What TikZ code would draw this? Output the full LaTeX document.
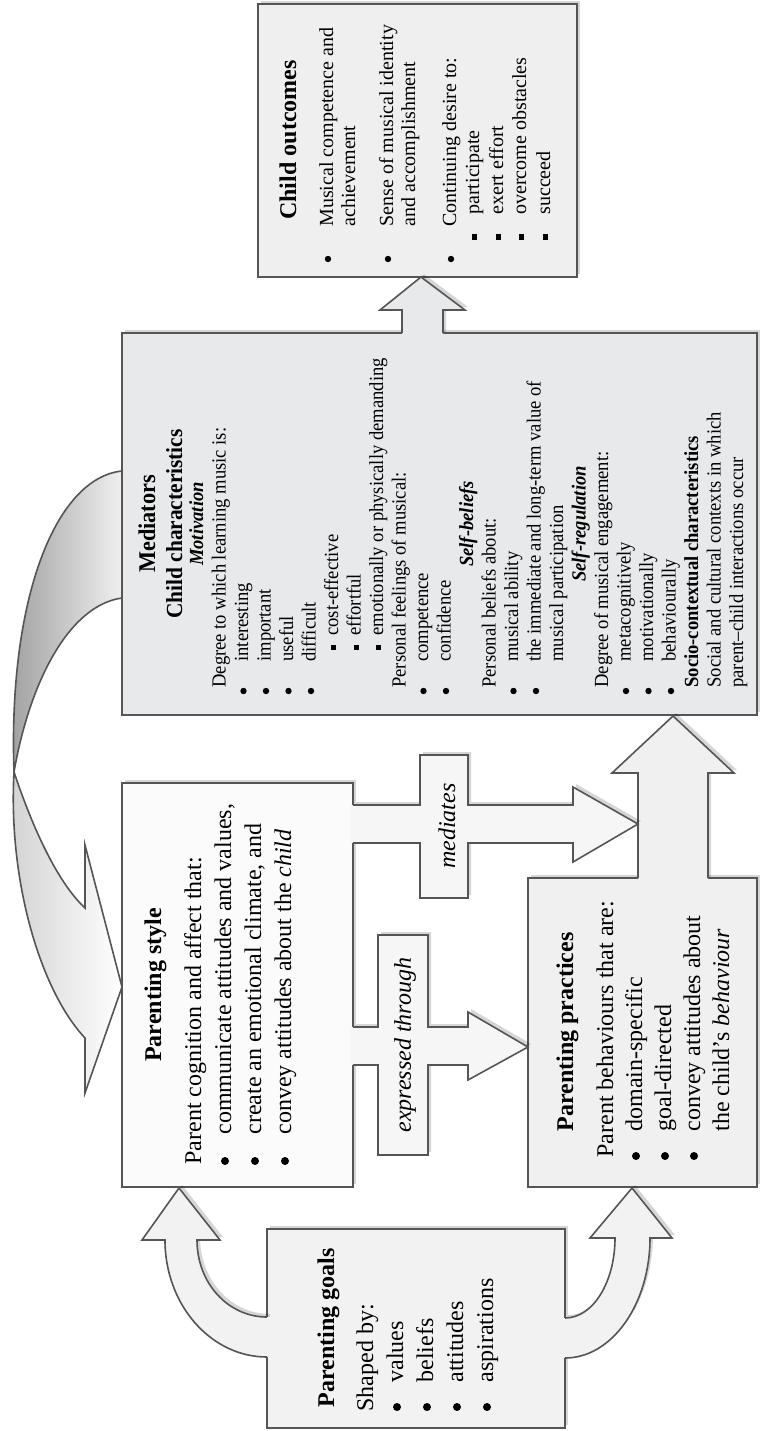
\documentclass[tikz,border=0pt]{standalone}
\usepackage{fontspec}
\setmainfont{Liberation Serif}
\newfontfamily\condfont[FakeStretch=0.93]{Liberation Serif}
\usetikzlibrary{shadows}
\definecolor{edgec}{HTML}{555555}
\definecolor{pgfill}{HTML}{F2F2F2}
\definecolor{psfill}{HTML}{FBFBFB}
\definecolor{ppfill}{HTML}{F0F0F0}
\definecolor{mfill}{HTML}{E8E9EA}
\definecolor{cofill}{HTML}{EFEFEF}
\definecolor{arrfill}{HTML}{F6F6F6}
\begin{document}
\begin{tikzpicture}[x=0.5pt,y=-0.5pt,
  box/.style={draw=edgec, line width=1pt, inner sep=0pt, outer sep=0pt,
    drop shadow={shadow xshift=1.5pt, shadow yshift=1.5pt, opacity=0.16, fill=black}},
  shd/.style={drop shadow={shadow xshift=1.5pt, shadow yshift=1.5pt, opacity=0.16, fill=black}},
  arr/.style={draw=edgec, line width=0.8pt, line join=miter},
  txt/.style={rotate=90, inner sep=0pt, anchor=base west},
  ctr/.style={rotate=90, inner sep=0pt, anchor=base},
  big/.style={font=\fontsize{12}{14}\selectfont},
  bigb/.style={font=\fontsize{12}{14}\selectfont\bfseries},
  sm/.style={font=\fontsize{10}{12}\selectfont},
  cd/.style={font=\condfont\fontsize{10}{12}\selectfont},
  cdb/.style={font=\condfont\fontsize{10}{12}\selectfont\bfseries},
  cdbi/.style={font=\condfont\fontsize{10}{12}\selectfont\bfseries\itshape},
  lbl/.style={rotate=90, inner sep=0pt, font=\fontsize{12}{14}\selectfont\itshape},
  sq/.style={rotate=90, inner sep=0pt, anchor=base west},
  dotL/.style={circle, fill=black, inner sep=0pt, minimum size=4pt},
  dotS/.style={circle, fill=black, inner sep=0pt, minimum size=3.2pt},
]
\useasboundingbox (0,0) rectangle (763,1431);
\fill[white] (0,0) rectangle (763,1431);

% ---------- ribbon arrow (Mediators -> Parenting style)
\shade[left color=gray!75, right color=gray!12]
  (122,471) .. controls (55,478) and (8,600) .. (14,772)
  .. controls (30,680) and (70,605) .. (122,598) -- cycle;
\shade[left color=gray!35, right color=white]
  (14,772) .. controls (8,880) and (40,990) .. (85,1038)
  -- (85,1093) -- (122,987) -- (85,845) -- (85,908)
  .. controls (55,880) and (30,820) .. (14,772) -- cycle;
\draw[arr] (122,471) .. controls (55,478) and (8,600) .. (14,772)
  .. controls (8,880) and (40,990) .. (85,1038)
  -- (85,1093) -- (122,987) -- (85,845) -- (85,908)
  .. controls (55,880) and (30,820) .. (14,772)
  .. controls (30,680) and (70,605) .. (122,598);

% ---------- boxes
\node[box, fill=cofill, minimum width=159.5pt, minimum height=136.5pt] (co) at (417.5,140.5) {};
\node[box, fill=mfill, minimum width=317.5pt, minimum height=191pt] (med) at (439.5,524) {};
\node[box, fill=psfill, minimum width=115.5pt, minimum height=202pt] (ps) at (237.5,985) {};
\node[box, fill=ppfill, minimum width=114.5pt, minimum height=154.5pt] (pp) at (642.5,1032.5) {};
\node[box, fill=pgfill, minimum width=149pt, minimum height=99.5pt] (pg) at (416,1328.5) {};

% ---------- block arrows
% Mediators -> Child outcomes
\fill[mfill, shd] (402,335) -- (402,310) -- (380,310) -- (421,277) -- (465,310) -- (443,310) -- (443,335) -- cycle;
\fill[mfill] (402,331) rectangle (443,336);
\draw[arr] (402,333) -- (402,310) -- (380,310) -- (421,277) -- (465,310) -- (443,310) -- (443,333);
% Parenting practices -> Mediators
\fill[ppfill, shd] (638,880) -- (638,773) -- (612,773) -- (673,716) -- (734,773) -- (708,773) -- (708,880) -- cycle;
\fill[ppfill] (638,876) rectangle (708,881);
\draw[arr] (638,878) -- (638,773) -- (612,773) -- (673,716) -- (734,773) -- (708,773) -- (708,878);
% Parenting goals -> Parenting style
\fill[pgfill, shd] (267,1357) .. controls (211,1357) and (165,1305) .. (165,1240)
  -- (142,1240) -- (179,1188) -- (220,1240) -- (197,1240)
  .. controls (197,1283) and (228,1317) .. (267,1317) -- cycle;
\fill[pgfill] (265,1317) rectangle (271,1357);
\draw[arr] (267,1357) .. controls (211,1357) and (165,1305) .. (165,1240)
  -- (142,1240) -- (179,1188) -- (220,1240) -- (197,1240)
  .. controls (197,1283) and (228,1317) .. (267,1317);
% Parenting goals -> Parenting practices
\fill[pgfill, shd] (565,1358) .. controls (612,1358) and (650,1304) .. (650,1238)
  -- (672,1238) -- (632,1188) -- (590,1238) -- (615,1238)
  .. controls (615,1282) and (593,1318) .. (565,1318) -- cycle;
\fill[pgfill] (561,1318) rectangle (567,1358);
\draw[arr] (565,1358) .. controls (612,1358) and (650,1304) .. (650,1238)
  -- (672,1238) -- (632,1188) -- (590,1238) -- (615,1238)
  .. controls (615,1282) and (593,1318) .. (565,1318);
% expressed through
\fill[arrfill, shd] (353,1027) -- (378,1027) -- (378,935) -- (428,935) -- (428,1027) -- (468,1027)
  -- (468,1012) -- (528,1047) -- (468,1080) -- (468,1065) -- (428,1065) -- (428,1155)
  -- (378,1155) -- (378,1065) -- (353,1065) -- cycle;
\fill[arrfill] (350,1027) rectangle (356,1065);
\draw[arr] (353,1027) -- (378,1027) -- (378,935) -- (428,935) -- (428,1027) -- (468,1027)
  -- (468,1012) -- (528,1047) -- (468,1080) -- (468,1065) -- (428,1065) -- (428,1155)
  -- (378,1155) -- (378,1065) -- (353,1065);
% mediates
\fill[arrfill, shd] (353,805) -- (420,805) -- (420,755) -- (468,755) -- (468,805) -- (573,805)
  -- (573,787) -- (638,824) -- (573,862) -- (573,843) -- (468,843) -- (468,898)
  -- (420,898) -- (420,843) -- (353,843) -- cycle;
\fill[arrfill] (350,805) rectangle (356,843);
\draw[arr] (353,805) -- (420,805) -- (420,755) -- (468,755) -- (468,805) -- (573,805)
  -- (573,787) -- (638,824) -- (573,862) -- (573,843) -- (468,843) -- (468,898)
  -- (420,898) -- (420,843) -- (353,843);

\node[lbl] (lblM) at (447,826) {mediates};
\node[lbl] (lblE) at (405,1045) {expressed through};

% ---------- Parenting goals text
\node[bigb, ctr] (pgT) at (334,1328) {Parenting goals};
\node[big, txt] (pg0) at (373,1412) {Shaped by:};
\foreach \yy/\t [count=\i] in {403/values,433/beliefs,463/attitudes,493/aspirations}{
  \node[dotL] (pgb\i) at (\yy-6,1407) {};
  \node[big, txt] (pgi\i) at (\yy,1383) {\t};
}

% ---------- Parenting style text
\node[bigb, ctr] (psT) at (161,985) {Parenting style};
\node[big, txt] (ps0) at (201,1165) {Parent cognition and affect that:};
\node[dotL] (psb1) at (225,1161) {};
\node[big, txt] (psi1) at (231,1135) {communicate attitudes and values,};
\node[dotL] (psb2) at (255,1161) {};
\node[big, txt] (psi2) at (261,1135) {create an emotional climate, and};
\node[dotL] (psb3) at (285,1161) {};
\node[big, txt] (psi3) at (291,1135) {convey attitudes about the \textit{child}};

% ---------- Parenting practices text
\node[bigb, ctr] (ppT) at (573,1032) {Parenting practices};
\node[big, txt] (pp0) at (613,1158) {Parent behaviours that are:};
\node[dotL] (ppb1) at (636,1156) {};
\node[big, txt] (ppi1) at (642,1132) {domain-specific};
\node[dotL] (ppb2) at (665,1156) {};
\node[big, txt] (ppi2) at (671,1132) {goal-directed};
\node[dotL] (ppb3) at (694,1156) {};
\node[big, txt] (ppi3) at (700,1132) {convey attitudes about};
\node[big, txt] (ppi4) at (729,1132) {the child’s \textit{behaviour}};

% ---------- Child outcomes text
\node[bigb, ctr] (coT) at (296,140) {Child outcomes};
\node[dotS] (cob1) at (328,259) {};
\node[sm, txt] (coi1) at (333,227) {Musical competence and};
\node[sm, txt] (coi1b) at (355,227) {achievement};
\node[dotS] (cob2) at (388,259) {};
\node[sm, txt] (coi2) at (393,227) {Sense of musical identity};
\node[sm, txt] (coi2b) at (415,227) {and accomplishment};
\node[dotS] (cob3) at (451,259) {};
\node[sm, txt] (coi3) at (456,227) {Continuing desire to:};
\foreach \yy/\t [count=\i] in {479/participate,503/exert effort,526/overcome obstacles,550/succeed}{
  \node[sq] (cos\i) at (\yy,240) {\rule[1pt]{2.6pt}{2.6pt}};
  \node[sm, txt] (cot\i) at (\yy,215) {\t};
}

% ---------- Mediators text
\node[ctr, font=\condfont\fontsize{12}{14}\selectfont\bfseries] (mT) at (155,524) {Mediators};
\node[ctr, font=\condfont\fontsize{11.5}{14}\selectfont\bfseries] (mT2) at (182,524) {Child characteristics};
\node[ctr, cdbi] (mh1) at (203,524) {Motivation};
\node[txt, cd] (m1) at (225.5,688) {Degree to which learning music is:};
\foreach \yy/\t [count=\i] in {248/interesting,270.5/important,293/useful,315.5/difficult}{
  \node[dotS] (mb\i) at (\yy-4.5,691) {};
  \node[txt, cd] (mi\i) at (\yy,662) {\t};
}
\foreach \yy/\t [count=\i] in {338/cost-effective,360.5/effortful,383/emotionally or physically demanding}{
  \node[sq] (ms\i) at (\yy,650.5) {\rule[1pt]{2.5pt}{2.5pt}};
  \node[txt, cd] (mst\i) at (\yy,636) {\t};
}
\node[txt, cd] (m2) at (405.5,688) {Personal feelings of musical:};
\node[dotS] (mb5) at (423.5,691) {};
\node[txt, cd] (mi5) at (428,662) {competence};
\node[dotS] (mb6) at (446,691) {};
\node[txt, cd] (mi6) at (450.5,662) {confidence};
\node[ctr, cdbi] (mh2) at (473,524) {Self-beliefs};
\node[txt, cd] (m3) at (495.5,688) {Personal beliefs about:};
\node[dotS] (mb7) at (513.5,691) {};
\node[txt, cd] (mi7) at (518,662) {musical ability};
\node[dotS] (mb8) at (536,691) {};
\node[txt, cd] (mi8) at (540.5,662) {the immediate and long-term value of};
\node[txt, cd] (mi8b) at (563,662) {musical participation};
\node[ctr, cdbi] (mh3) at (585.5,524) {Self-regulation};
\node[txt, cd] (m4) at (608,688) {Degree of musical engagement:};
\foreach \yy/\t [count=\i from 9] in {630.5/metacognitively,653/motivationally,675.5/behaviourally}{
  \node[dotS] (mb\i) at (\yy-4.5,691) {};
  \node[txt, cd] (mi\i) at (\yy,662) {\t};
}
\node[txt, cdb] (mh4) at (698,688) {Socio-contextual characteristics};
\node[txt, cd] (m5) at (720.5,688) {Social and cultural contexts in which};
\node[txt, cd] (m6) at (743,688) {parent–child interactions occur};
\end{tikzpicture}
\end{document}
